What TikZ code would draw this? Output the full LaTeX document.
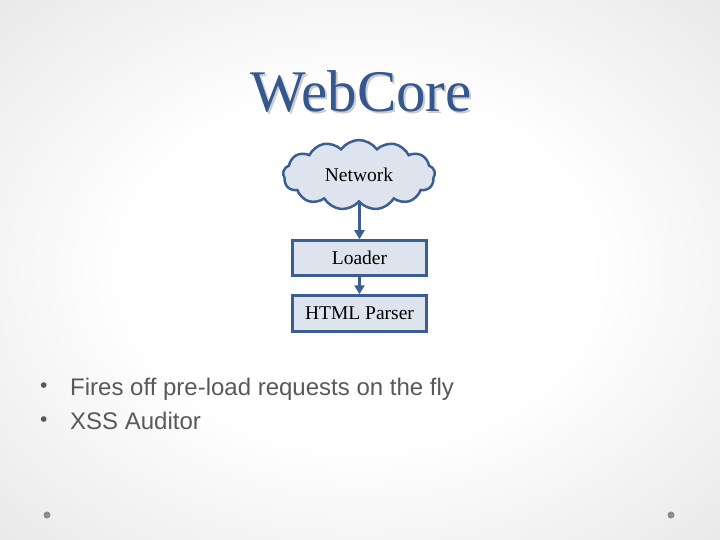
\documentclass[tikz,border=0pt]{standalone}
\usepackage{fontspec}
\setmainfont{Liberation Serif}
\newfontfamily\bulletfont{Liberation Sans}
\usetikzlibrary{shapes.symbols,arrows.meta}

\definecolor{titleblue}{HTML}{34578E}
\definecolor{edgeblue}{HTML}{3B5E93}
\definecolor{boxfill}{HTML}{DDE4EE}
\definecolor{bullettext}{HTML}{595959}
\pgfdeclareradialshading{slidebg}{\pgfpoint{0bp}{0bp}}{color(0bp)=(white); color(16bp)=(white); color(50bp)=(gray!30); color(72bp)=(gray!42)}

\begin{document}
\begin{tikzpicture}[x=1pt,y=-1pt,
	stage/.style={draw=edgeblue, line width=2.5pt, fill=boxfill, minimum width=134pt, minimum height=35pt, inner sep=0pt, font=\fontsize{19.5}{22}\selectfont},
	netcloud/.style={stage, shape=cloud, cloud puffs=13, cloud puff arc=110, aspect=2.1, minimum width=152pt, minimum height=70pt},
	flow/.style={draw=edgeblue, line width=2.5pt, -{Triangle[length=9pt,width=10pt]}},
	point/.style={text=bullettext, font=\bulletfont\fontsize{24}{28}\selectfont, anchor=base west, inner sep=0pt},
	dot/.style={point, font=\bulletfont\fontsize{21}{24}\selectfont}]

	\useasboundingbox (0,0) rectangle (720,540);
	\shade[shading=slidebg] (0,0) rectangle (720,540);

	\node[anchor=base, text=titleblue, font=\fontsize{59}{64}\selectfont] (title) at (361,112)
	   {\makebox[0pt][l]{\hspace{2pt}\raisebox{-2pt}{\color{gray!40}WebCore}}WebCore};

	\node[netcloud] (net) at (359,175) {Network};
	\node[stage] (loader) at (359.5,258) {Loader};
	\node[stage, minimum height=36pt] (parser) at (359.5,313.5) {HTML Parser};

	\draw[flow] (loader.north |- net.south) -- (loader.north);
	\draw[flow] (loader.south) -- (parser.north);

	\node[dot] (b1) at (40,392) {•};
	\node[point] (t1) at (70,395) {Fires off pre-load requests on the fly};
	\node[dot] (b2) at (40,426) {•};
	\node[point] (t2) at (70,429) {XSS Auditor};

	\fill[gray!90] (47,515) circle (3.5);
	\fill[gray!90] (671,515) circle (3.5);
\end{tikzpicture}
\end{document}
